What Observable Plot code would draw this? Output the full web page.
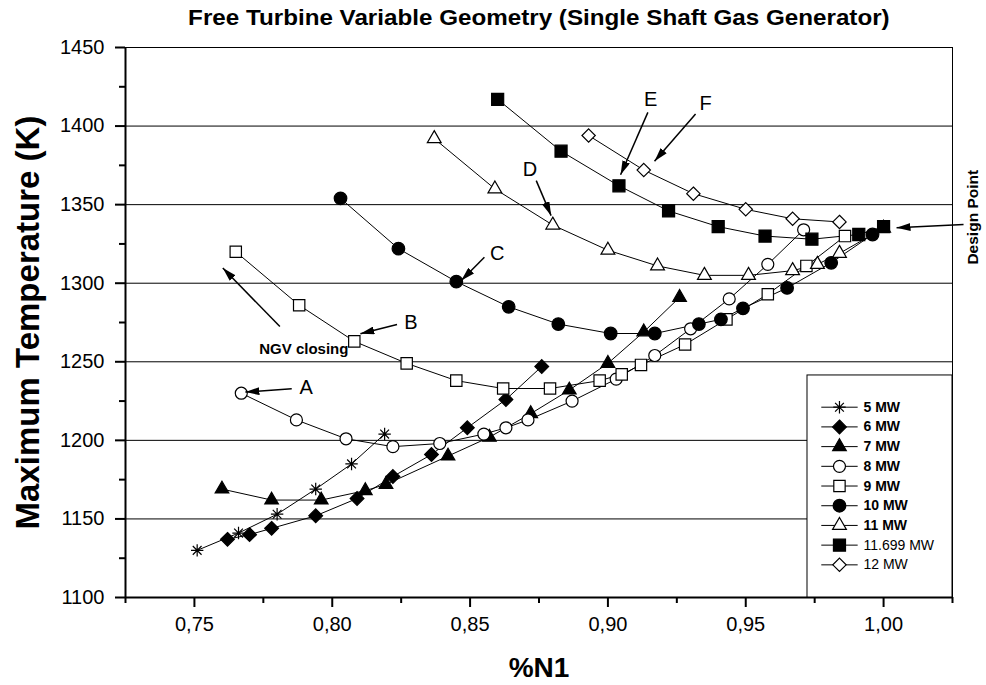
<!DOCTYPE html>
<html><head><meta charset="utf-8">
<script src="https://cdn.jsdelivr.net/npm/d3@7"></script>
<script src="https://cdn.jsdelivr.net/npm/@observablehq/plot@0.6"></script>
<style>
body{margin:0;background:#fff;font-family:"Liberation Sans",Arial,sans-serif;}
#title{margin-left:125px;width:827px;height:36px;line-height:36px;text-align:center;color:#000;}
#title span{display:inline-block;font-weight:bold;font-size:22px;transform:scaleX(1.1);}
</style></head><body>
<div id="title"><span>Free Turbine Variable Geometry (Single Shaft Gas Generator)</span></div>
<div id="chart"></div>
<script>
// ---------- data ----------
const seriesNames = ["5 MW","6 MW","7 MW","8 MW","9 MW","10 MW","11 MW","11.699 MW","12 MW"];

const n1_5MW  = [0.751, 0.766, 0.780, 0.794, 0.807, 0.819];
const t_5MW   = [1130, 1141, 1153, 1169, 1185, 1204];

const n1_6MW  = [0.762, 0.770, 0.778, 0.794, 0.809, 0.822, 0.836, 0.849, 0.863, 0.876];
const t_6MW   = [1137, 1140, 1144, 1152, 1163, 1177, 1191, 1208, 1226, 1247];

const n1_7MW  = [0.760, 0.778, 0.796, 0.812, 0.8195, 0.842, 0.857, 0.872, 0.886, 0.900, 0.913, 0.926];
const t_7MW   = [1169, 1162, 1162, 1168, 1172, 1190, 1202, 1217, 1232, 1249, 1269, 1291];

const n1_8MW  = [0.767, 0.787, 0.805, 0.822, 0.839, 0.855, 0.863, 0.871, 0.887, 0.903, 0.917, 0.930, 0.944, 0.958, 0.971];
const t_8MW   = [1230, 1213, 1201, 1196, 1198, 1204, 1208, 1213, 1225, 1239, 1254, 1271, 1290, 1312, 1334];

const n1_9MW  = [0.765, 0.788, 0.808, 0.827, 0.845, 0.862, 0.879, 0.897, 0.905, 0.912, 0.928, 0.943, 0.958, 0.972, 0.986];
const t_9MW   = [1320, 1286, 1263, 1249, 1238, 1233, 1233, 1238, 1242, 1248, 1261, 1277, 1293, 1311, 1330];

const n1_10MW = [0.803, 0.824, 0.845, 0.864, 0.882, 0.901, 0.917, 0.933, 0.941, 0.949, 0.965, 0.981, 0.996];
const t_10MW  = [1354, 1322, 1301, 1285, 1274, 1268, 1268, 1274, 1277, 1284, 1297, 1313, 1331];

const n1_11MW = [0.837, 0.859, 0.880, 0.900, 0.918, 0.935, 0.951, 0.967, 0.976, 0.984, 1.000];
const t_11MW  = [1392, 1360, 1337, 1321, 1311, 1305, 1305, 1308, 1312, 1319, 1335];

const n1_11699MW = [0.860, 0.883, 0.904, 0.922, 0.940, 0.957, 0.974, 0.991, 1.000];
const t_11699MW  = [1417, 1384, 1362, 1346, 1336, 1330, 1328, 1331, 1336];

const n1_12MW = [0.893, 0.913, 0.931, 0.950, 0.967, 0.984];
const t_12MW  = [1394, 1372, 1357, 1347, 1341, 1339];

const xMajorTicks = [0.75, 0.80, 0.85, 0.90, 0.95, 1.00];
const xMinorTicks = [0.725, 0.775, 0.825, 0.875, 0.925, 0.975, 1.025];
const yMajorTicks = [1100, 1150, 1200, 1250, 1300, 1350, 1400, 1450];
const yMinorTicks = [1125, 1175, 1225, 1275, 1325, 1375, 1425];
const gridLines   = [1150, 1200, 1250, 1300, 1350, 1400];

const annotLabels = ["A", "B", "C", "D", "E", "F"];
const annotTextX  = [0.7905, 0.8285, 0.8598, 0.8717, 0.9155, 0.9354];
const annotTextY  = [1233.4, 1275, 1319, 1372, 1417, 1414];
const arrowFromX  = [0.7853, 0.8235, 0.8552, 0.8740, 0.9145, 0.9318];
const arrowFromY  = [1232.8, 1273.7, 1316.5, 1365.3, 1408.7, 1407.7];
const arrowToX    = [0.7685, 0.8102, 0.8468, 0.8794, 0.9046, 0.9169];
const arrowToY    = [1230.7, 1267.8, 1301.7, 1343, 1369, 1377.6];

const ngvText = "NGV closing";
const ngvPos = {x: 0.7897, y: 1258.3};
const ngvArrow = {x1: 0.7810, y1: 1272.4, x2: 0.7603, y2: 1309.7};

const designText = "Design Point";
const designPos = {x: 1.0326, y: 1342};
const designArrow = {x1: 1.0290, y1: 1337.4, x2: 1.0047, y2: 1335.3};

// ---------- build ----------
const xs = [n1_5MW, n1_6MW, n1_7MW, n1_8MW, n1_9MW, n1_10MW, n1_11MW, n1_11699MW, n1_12MW];
const ys = [t_5MW, t_6MW, t_7MW, t_8MW, t_9MW, t_10MW, t_11MW, t_11699MW, t_12MW];
const table = seriesNames.flatMap((s, i) => xs[i].map((x, j) => ({series: s, n1: x, t: ys[i][j]})));

const asterisk8 = {
  draw(ctx, size) {
    const r = Math.sqrt(size / Math.PI), d = r * Math.SQRT1_2;
    ctx.moveTo(-r, 0); ctx.lineTo(r, 0);
    ctx.moveTo(0, -r); ctx.lineTo(0, r);
    ctx.moveTo(-d, -d); ctx.lineTo(d, d);
    ctx.moveTo(-d, d); ctx.lineTo(d, -d);
  }
};
const styles = {
  "5 MW":      {symbol: asterisk8,   fill: "none",  r: 6.2, bold: true},
  "6 MW":      {symbol: "diamond2",  fill: "black", r: 6.2, bold: true},
  "7 MW":      {symbol: "triangle2", fill: "black", r: 6.5, bold: true},
  "8 MW":      {symbol: "circle",    fill: "white", r: 6,   bold: true},
  "9 MW":      {symbol: "square",    fill: "white", r: 6.4, bold: true},
  "10 MW":     {symbol: "circle",    fill: "black", r: 6.3, bold: true},
  "11 MW":     {symbol: "triangle2", fill: "white", r: 6.6, bold: true},
  "11.699 MW": {symbol: "square",    fill: "black", r: 6.8, bold: false},
  "12 MW":     {symbol: "diamond2",  fill: "white", r: 6,   bold: false}
};

// legend layout (data-space anchors inside the frame, bottom-right)
const legBox = {x1: 0.9724, x2: 1.025, y1: 1100, y2: 1241.3};
const legRowY = (i) => 1221.1 - 12.54 * i;
const legLine = {x1: 0.9774, x2: 0.9906};
const legMarkX = 0.9840, legTextX = 0.9927;
const legRows = seriesNames.map((s, i) => ({series: s, y: legRowY(i)}));

const fmt = d => d.toFixed(2).replace(".", ",");

const marks = [
  Plot.ruleY(gridLines, {stroke: "#000", strokeWidth: 1}),
  Plot.frame({stroke: "#000", strokeWidth: 1}),
  Plot.ruleX([0.725], {stroke: "#000", strokeWidth: 2}),
  Plot.ruleY([1100], {stroke: "#000", strokeWidth: 2}),
  Plot.axisX(xMajorTicks, {tickSize: 10, tickPadding: 9, tickFormat: fmt, fontSize: 20, label: null, strokeWidth: 2}),
  Plot.axisX(xMinorTicks, {tickSize: 6, tickFormat: () => "", label: null, strokeWidth: 2}),
  Plot.axisY(yMajorTicks, {tickSize: 10, tickPadding: 11, tickFormat: d => String(d), fontSize: 20, label: null, strokeWidth: 2}),
  Plot.axisY(yMinorTicks, {tickSize: 6, tickFormat: () => "", label: null, strokeWidth: 2}),
  Plot.line(table, {x: "n1", y: "t", z: "series", stroke: "#000", strokeWidth: 1})
];
for (const s of seriesNames) {
  const st = styles[s];
  marks.push(Plot.dot(table.filter(d => d.series === s), {
    x: "n1", y: "t", symbol: st.symbol, r: st.r, fill: st.fill, stroke: "#000", strokeWidth: 1.2
  }));
}
// annotations
const annots = annotLabels.map((l, i) => ({l, tx: annotTextX[i], ty: annotTextY[i], x1: arrowFromX[i], y1: arrowFromY[i], x2: arrowToX[i], y2: arrowToY[i]}));
const allArrows = [...annots, ngvArrow, designArrow];
marks.push(
  Plot.link(allArrows, {x1: "x1", y1: "y1", x2: "x2", y2: "y2", stroke: "#000", strokeWidth: 1.5, markerEnd: "arrow"}),
  Plot.text(annots, {x: "tx", y: "ty", text: "l", fontSize: 20, fill: "#000"}),
  Plot.text([ngvText], {x: () => ngvPos.x, y: () => ngvPos.y, text: d => d, fontSize: 15, fontWeight: "bold", fill: "#000"}),
  Plot.text([designText], {x: () => designPos.x, y: () => designPos.y, text: d => d, rotate: -90, fontSize: 15.5, fontWeight: "bold", fill: "#000"}),
  Plot.text(["Maximum Temperature (K)"], {frameAnchor: "left", dx: -97, rotate: -90, textAnchor: "middle", lineAnchor: "middle", text: d => d, fontSize: 33, fontWeight: "bold", fill: "#000"}),
  Plot.text(["%N1"], {frameAnchor: "bottom", dy: 71, textAnchor: "middle", lineAnchor: "middle", text: d => d, fontSize: 28, fontWeight: "bold", fill: "#000"})
);
// legend
marks.push(
  Plot.rect([legBox], {x1: "x1", x2: "x2", y1: "y1", y2: "y2", fill: "white", stroke: "#000", strokeWidth: 1}),
  Plot.link(legRows, {x1: () => legLine.x1, x2: () => legLine.x2, y1: "y", y2: "y", stroke: "#000", strokeWidth: 1})
);
for (const row of legRows) {
  const st = styles[row.series];
  marks.push(
    Plot.dot([row], {x: () => legMarkX, y: "y", symbol: st.symbol, r: st.r, fill: st.fill, stroke: "#000", strokeWidth: 1.2}),
    Plot.text([row], {x: () => legTextX, y: "y", text: "series", textAnchor: "start", fontSize: 14, fontWeight: st.bold ? "bold" : "normal", fill: "#000"})
  );
}

const plot = Plot.plot({
  width: 986, height: 649,
  marginTop: 11, marginBottom: 88, marginLeft: 125, marginRight: 34,
  x: {domain: [0.725, 1.025]},
  y: {domain: [1100, 1450]},
  style: {fontFamily: "'Liberation Sans', Arial, sans-serif", background: "white", color: "black", overflow: "visible"},
  marks
});
plot.querySelectorAll("marker").forEach(m => {
  m.setAttribute("viewBox", "0 0 14 8");
  m.setAttribute("refX", "14"); m.setAttribute("refY", "4");
  m.setAttribute("markerWidth", "14"); m.setAttribute("markerHeight", "8");
  m.setAttribute("markerUnits", "userSpaceOnUse");
  m.setAttribute("orient", "auto");
  m.setAttribute("fill", "#000"); m.setAttribute("stroke", "none");
  const p = m.querySelector("path"); if (p) p.setAttribute("d", "M0,0L14,4L0,8Z");
});
document.getElementById("chart").appendChild(plot);
</script></body></html>
